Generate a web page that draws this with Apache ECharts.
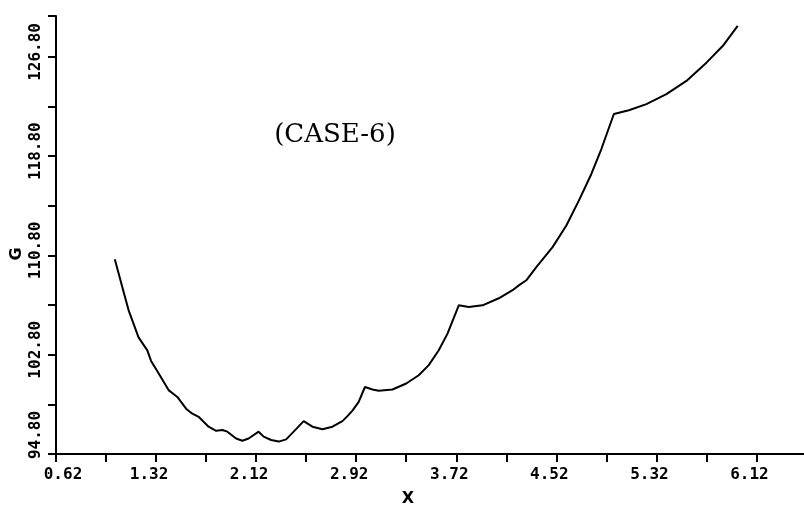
<!DOCTYPE html>
<html>
<head>
<meta charset="utf-8">
<script src="https://cdn.jsdelivr.net/npm/echarts@6/dist/echarts.min.js"></script>
<style>
  html, body { margin: 0; padding: 0; background: #fff; }
  #chart { width: 804px; height: 507px; }
</style>
</head>
<body>
<div id="chart"></div>
<script>
// G as a function of X for case 6
const xValues = [
  0.99, 1.05, 1.10, 1.18, 1.25, 1.28, 1.34, 1.42, 1.49, 1.56,
  1.61, 1.66, 1.74, 1.80, 1.85, 1.89, 1.96, 2.01, 2.06, 2.14,
  2.18, 2.24, 2.30, 2.36, 2.42, 2.50, 2.57, 2.65, 2.73, 2.81,
  2.85, 2.89, 2.94, 2.99, 3.05, 3.10, 3.21, 3.32, 3.42, 3.50,
  3.58, 3.65, 3.74, 3.82, 3.93, 4.06, 4.17, 4.22, 4.28, 4.36,
  4.49, 4.60, 4.70, 4.80, 4.88, 4.98, 5.10, 5.24, 5.40, 5.56,
  5.72, 5.85, 5.97
];
const gValues = [
  110.5, 108.25, 106.4, 104.2, 103.15, 102.3, 101.3, 99.95, 99.4, 98.45,
  98.05, 97.8, 97.0, 96.67, 96.73, 96.6, 96.05, 95.87, 96.05, 96.6,
  96.2, 95.93, 95.8, 95.98, 96.6, 97.45, 97.0, 96.8, 97.0, 97.45,
  97.85, 98.3, 99.0, 100.2, 100.0, 99.9, 100.0, 100.48, 101.15, 101.96,
  103.16, 104.5, 106.78, 106.64, 106.78, 107.35, 108.0, 108.39, 108.8, 109.86,
  111.47, 113.21, 115.22, 117.37, 119.38, 122.2, 122.5, 123.0, 123.8, 124.87,
  126.34, 127.68, 129.3
];

// axis ticks and printed tick labels
const xTickValues = [0.52, 0.92, 1.32, 1.72, 2.12, 2.52, 2.92, 3.32, 3.72, 4.12, 4.52, 4.92, 5.32, 5.72, 6.12];
const xLabelValues = [0.52, 1.32, 2.12, 2.92, 3.72, 4.52, 5.32, 6.12];
const xTickLabels = ['0.62', '1.32', '2.12', '2.92', '3.72', '4.52', '5.32', '6.12'];
const yTickValues = [94.8, 98.8, 102.8, 106.8, 110.8, 114.8, 118.8, 122.8, 126.8, 130.1];
const yLabelValues = [94.8, 102.8, 110.8, 118.8, 126.8];
const yTickLabels = ['94.80', '102.80', '110.80', '118.80', '126.80'];

const tickFont = { fontFamily: 'DejaVu Sans Mono', fontWeight: 'bold', fontSize: 16, color: '#000' };

function labelIndex(list, v) {
  return list.findIndex(t => Math.abs(t - v) < 1e-6);
}

const chart = echarts.init(document.getElementById('chart'), null, { renderer: 'canvas' });

chart.setOption({
  animation: false,
  backgroundColor: '#fff',
  title: {
    text: '(CASE-6)',
    left: 330,
    top: 130,
    textAlign: 'center',
    textVerticalAlign: 'middle',
    textStyle: { fontFamily: 'DejaVu Serif', fontWeight: 'normal', fontSize: 26, color: '#000' }
  },
  grid: { left: 56, right: 0, top: 16, bottom: 53, containLabel: false, outerBoundsMode: 'none' },
  xAxis: {
    type: 'value',
    min: 0.52,
    max: 6.5,
    name: 'X',
    nameLocation: 'middle',
    nameGap: 37,
    nameTextStyle: { fontFamily: 'DejaVu Sans', fontWeight: 'bold', fontSize: 16, color: '#000', padding: [0, 44, 0, 0] },
    axisLine: { show: true, onZero: false, lineStyle: { color: '#000', width: 2 } },
    axisTick: { show: true, inside: false, length: 8, customValues: xTickValues, lineStyle: { color: '#000', width: 2 } },
    axisLabel: {
      show: true,
      margin: 13,
      customValues: xLabelValues,
      formatter: function (v) {
        const i = labelIndex(xLabelValues, v);
        const s = i >= 0 ? xTickLabels[i] : '';
        return i === 0 ? '{f|' + s + '}' : '{n|' + s + '}';
      },
      rich: {
        f: Object.assign({ padding: [0, 0, 0, 14] }, tickFont),
        n: Object.assign({ padding: [0, 14, 0, 0] }, tickFont)
      }
    },
    splitLine: { show: false }
  },
  yAxis: {
    type: 'value',
    min: 94.8,
    max: 130.1,
    name: 'G',
    nameLocation: 'middle',
    nameGap: 31,
    nameRotate: 90,
    nameMoveOverlap: false,
    nameTextStyle: { fontFamily: 'DejaVu Sans', fontWeight: 'bold', fontSize: 16, color: '#000', padding: [0, 38, 0, 0] },
    axisLine: { show: true, onZero: false, lineStyle: { color: '#000', width: 2 } },
    axisTick: { show: true, inside: false, length: 8, customValues: yTickValues, lineStyle: { color: '#000', width: 2 } },
    axisLabel: {
      show: true,
      rotate: 90,
      margin: 12,
      customValues: yLabelValues,
      formatter: function (v) {
        const i = labelIndex(yLabelValues, v);
        const s = i >= 0 ? yTickLabels[i] : '';
        return i === 0 ? '{f|' + s + '}' : '{n|' + s + '}';
      },
      rich: {
        f: Object.assign({ padding: [0, 0, 0, 38] }, tickFont),
        n: Object.assign({ padding: [0, 0, 0, 10] }, tickFont)
      }
    },
    splitLine: { show: false }
  },
  series: [{
    type: 'line',
    data: xValues.map((x, i) => [x, gValues[i]]),
    symbol: 'none',
    smooth: false,
    lineStyle: { color: '#000', width: 2 }
  }]
});
</script>
</body>
</html>
